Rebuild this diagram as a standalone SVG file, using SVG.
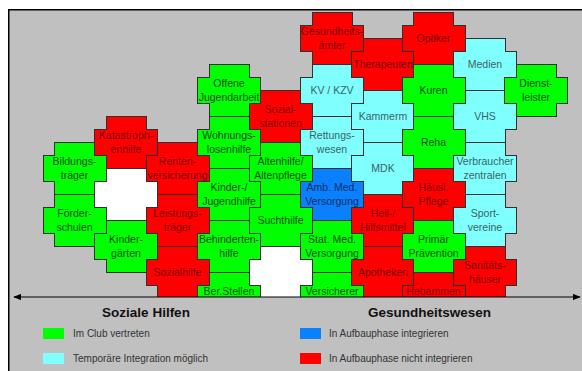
<svg xmlns="http://www.w3.org/2000/svg" xmlns:xlink="http://www.w3.org/1999/xlink" width="582" height="371" viewBox="0 0 582 371">
<style>
.pc{stroke:#303030;stroke-width:1;shape-rendering:crispEdges}
.r{fill:#FF0000}.g{fill:#00FF00}.c{fill:#80FFFF}.b{fill:#0A80FF}.w{fill:#FFFFFF}
text{font-family:"Liberation Sans",Arial,sans-serif;font-size:10.5px;text-anchor:middle}
.tr{fill:#7A0000}.tg{fill:#0A4A0A}.tc{fill:#3A6464}.tb{fill:#0F2F5F}
.lg{font-size:10px;text-anchor:start;fill:#333333}
.hd{font-size:13.5px;font-weight:bold;fill:#111111}
</style>
<defs>
<path id="pc" d="M-20,-26H20V-13H31.5V13H20V26H-20V13H-31.5V-13H-20Z"/>
<clipPath id="clip"><rect x="0" y="0" width="582" height="297"/></clipPath>
<marker id="ah" viewBox="0 0 10 8" refX="9" refY="4" markerWidth="8" markerHeight="6.4" markerUnits="userSpaceOnUse" orient="auto-start-reverse"><path d="M0,0L10,4L0,8Z" fill="#000"/></marker>
</defs>
<rect x="8.75" y="9.75" width="600" height="400" fill="#C0C0C0" stroke="#000" stroke-width="1.5"/>
<g id="pieces" clip-path="url(#clip)">
<g id="bildungstraeger"><use xlink:href="#pc" href="#pc" x="74.5" y="168" class="pc g"/><text class="tg" x="74.5" y="164.7"><tspan x="74.5">Bildungs-</tspan><tspan x="74.5" dy="14">träger</tspan></text></g>
<g id="foerderschulen"><use xlink:href="#pc" href="#pc" x="74.5" y="220" class="pc g"/><text class="tg" x="74.5" y="216.7"><tspan x="74.5">Förder-</tspan><tspan x="74.5" dy="14">schulen</tspan></text></g>
<g id="katastrophenhilfe"><use xlink:href="#pc" href="#pc" x="126" y="142" class="pc r"/><text class="tr" x="126" y="138.7"><tspan x="126">Katastroph-</tspan><tspan x="126" dy="14">enhilfe</tspan></text></g>
<g id="leer1"><use xlink:href="#pc" href="#pc" x="126" y="194" class="pc w"/></g>
<g id="kindergaerten"><use xlink:href="#pc" href="#pc" x="126" y="246" class="pc g"/><text class="tg" x="126" y="242.7"><tspan x="126">Kinder-</tspan><tspan x="126" dy="14">gärten</tspan></text></g>
<g id="rentenversicherung"><use xlink:href="#pc" href="#pc" x="177.5" y="168" class="pc r"/><text class="tr" x="177.5" y="164.7"><tspan x="177.5">Renten-</tspan><tspan x="177.5" dy="14">versicherung</tspan></text></g>
<g id="leistungstraeger"><use xlink:href="#pc" href="#pc" x="177.5" y="220" class="pc r"/><text class="tr" x="177.5" y="216.7"><tspan x="177.5">Leistungs-</tspan><tspan x="177.5" dy="14">träger</tspan></text></g>
<g id="sozialhilfe"><use xlink:href="#pc" href="#pc" x="177.5" y="272" class="pc r"/><text class="tr" x="177.5" y="275.7">Sozialhilfe</text></g>
<g id="offene-jugendarbeit"><use xlink:href="#pc" href="#pc" x="229" y="90" class="pc g"/><text class="tg" x="229" y="86.7"><tspan x="229">Offene</tspan><tspan x="229" dy="14">Jugendarbeit</tspan></text></g>
<g id="wohnungslosenhilfe"><use xlink:href="#pc" href="#pc" x="229" y="142" class="pc g"/><text class="tg" x="229" y="138.7"><tspan x="229">Wohnungs-</tspan><tspan x="229" dy="14">losenhilfe</tspan></text></g>
<g id="kinder-jugendhilfe"><use xlink:href="#pc" href="#pc" x="229" y="194" class="pc g"/><text class="tg" x="229" y="190.7"><tspan x="229">Kinder-/</tspan><tspan x="229" dy="14">Jugendhilfe</tspan></text></g>
<g id="behindertenhilfe"><use xlink:href="#pc" href="#pc" x="229" y="246" class="pc g"/><text class="tg" x="229" y="242.7"><tspan x="229">Behinderten-</tspan><tspan x="229" dy="14">hilfe</tspan></text></g>
<g id="berstellen"><use xlink:href="#pc" href="#pc" x="229" y="298" class="pc g"/><text class="tg" x="229" y="295">Ber.Stellen</text></g>
<g id="sozialstationen"><use xlink:href="#pc" href="#pc" x="280.5" y="116" class="pc r"/><text class="tr" x="280.5" y="112.7"><tspan x="280.5">Sozial-</tspan><tspan x="280.5" dy="14">stationen</tspan></text></g>
<g id="altenhilfe"><use xlink:href="#pc" href="#pc" x="280.5" y="168" class="pc g"/><text class="tg" x="280.5" y="164.7"><tspan x="280.5">Altenhilfe/</tspan><tspan x="280.5" dy="14">Altenpflege</tspan></text></g>
<g id="suchthilfe"><use xlink:href="#pc" href="#pc" x="280.5" y="220" class="pc g"/><text class="tg" x="280.5" y="223.7">Suchthilfe</text></g>
<g id="leer2"><use xlink:href="#pc" href="#pc" x="280.5" y="272" class="pc w"/></g>
<g id="gesundheitsaemter"><use xlink:href="#pc" href="#pc" x="332" y="38" class="pc r"/><text class="tr" x="332" y="34.7"><tspan x="332">Gesundheits-</tspan><tspan x="332" dy="14">ämter</tspan></text></g>
<g id="kv-kzv"><use xlink:href="#pc" href="#pc" x="332" y="90" class="pc c"/><text class="tc" x="332" y="93.7">KV / KZV</text></g>
<g id="rettungswesen"><use xlink:href="#pc" href="#pc" x="332" y="142" class="pc c"/><text class="tc" x="332" y="138.7"><tspan x="332">Rettungs-</tspan><tspan x="332" dy="14">wesen</tspan></text></g>
<g id="amb-med"><use xlink:href="#pc" href="#pc" x="332" y="194" class="pc b"/><text class="tb" x="332" y="190.7"><tspan x="332">Amb. Med.</tspan><tspan x="332" dy="14">Versorgung</tspan></text></g>
<g id="stat-med"><use xlink:href="#pc" href="#pc" x="332" y="246" class="pc g"/><text class="tg" x="332" y="242.7"><tspan x="332">Stat. Med.</tspan><tspan x="332" dy="14">Versorgung</tspan></text></g>
<g id="versicherer"><use xlink:href="#pc" href="#pc" x="332" y="298" class="pc g"/><text class="tg" x="332" y="295">Versicherer</text></g>
<g id="therapeuten"><use xlink:href="#pc" href="#pc" x="383" y="64" class="pc r"/><text class="tr" x="383" y="67.7">Therapeuten</text></g>
<g id="kammerm"><use xlink:href="#pc" href="#pc" x="383" y="116" class="pc c"/><text class="tc" x="383" y="119.7">Kammerm</text></g>
<g id="mdk"><use xlink:href="#pc" href="#pc" x="383" y="168" class="pc c"/><text class="tc" x="383" y="171.7">MDK</text></g>
<g id="heil-hilfsmittel"><use xlink:href="#pc" href="#pc" x="383" y="220" class="pc r"/><text class="tr" x="383" y="216.7"><tspan x="383">Heil-/</tspan><tspan x="383" dy="14">Hilfsmittel</tspan></text></g>
<g id="apotheken"><use xlink:href="#pc" href="#pc" x="383" y="272" class="pc r"/><text class="tr" x="383" y="275.7">Apotheken</text></g>
<g id="optiker"><use xlink:href="#pc" href="#pc" x="433.5" y="38" class="pc r"/><text class="tr" x="433.5" y="41.7">Optiker</text></g>
<g id="kuren"><use xlink:href="#pc" href="#pc" x="433.5" y="90" class="pc g"/><text class="tg" x="433.5" y="93.7">Kuren</text></g>
<g id="reha"><use xlink:href="#pc" href="#pc" x="433.5" y="142" class="pc g"/><text class="tg" x="433.5" y="145.7">Reha</text></g>
<g id="haeusl-pflege"><use xlink:href="#pc" href="#pc" x="433.5" y="194" class="pc r"/><text class="tr" x="433.5" y="190.7"><tspan x="433.5">Häusl.</tspan><tspan x="433.5" dy="14">Pflege</tspan></text></g>
<g id="primaer-praevention"><use xlink:href="#pc" href="#pc" x="433.5" y="246" class="pc g"/><text class="tg" x="433.5" y="242.7"><tspan x="433.5">Primär</tspan><tspan x="433.5" dy="14">Prävention</tspan></text></g>
<g id="hebammen"><use xlink:href="#pc" href="#pc" x="433.5" y="298" class="pc r"/><text class="tr" x="433.5" y="295">Hebammen</text></g>
<g id="medien"><use xlink:href="#pc" href="#pc" x="485" y="64" class="pc c"/><text class="tc" x="485" y="67.7">Medien</text></g>
<g id="vhs"><use xlink:href="#pc" href="#pc" x="485" y="116" class="pc c"/><text class="tc" x="485" y="119.7">VHS</text></g>
<g id="verbraucherzentralen"><use xlink:href="#pc" href="#pc" x="485" y="168" class="pc c"/><text class="tc" x="485" y="164.7"><tspan x="485">Verbraucher</tspan><tspan x="485" dy="14">zentralen</tspan></text></g>
<g id="sportvereine"><use xlink:href="#pc" href="#pc" x="485" y="220" class="pc c"/><text class="tc" x="485" y="216.7"><tspan x="485">Sport-</tspan><tspan x="485" dy="14">vereine</tspan></text></g>
<g id="sanitaetshaeuser"><use xlink:href="#pc" href="#pc" x="485" y="272" class="pc r"/><text class="tr" x="485" y="268.7"><tspan x="485">Sanitäts-</tspan><tspan x="485" dy="14">häuser</tspan></text></g>
<g id="dienstleister"><use xlink:href="#pc" href="#pc" x="536" y="90" class="pc g"/><text class="tg" x="536" y="86.7"><tspan x="536">Dienst-</tspan><tspan x="536" dy="14">leister</tspan></text></g>
</g>
<g id="connectors">
<line x1="14" y1="297" x2="580" y2="297" stroke="#000" stroke-width="1" marker-start="url(#ah)" marker-end="url(#ah)"/>
</g>
<g id="labels">
<text class="hd" x="146" y="317">Soziale Hilfen</text>
<text class="hd" x="429.5" y="317">Gesundheitswesen</text>
</g>
<g id="legend">
<rect x="43" y="328" width="21" height="11" fill="#00FF00"/>
<text class="lg" x="73" y="337">Im Club vertreten</text>
<rect x="43" y="353" width="21" height="11" fill="#80FFFF"/>
<text class="lg" x="73" y="362">Temporäre Integration möglich</text>
<rect x="300" y="328" width="21" height="11" fill="#0A80FF"/>
<text class="lg" x="329" y="337">In Aufbauphase integrieren</text>
<rect x="300" y="353" width="21" height="11" fill="#FF0000"/>
<text class="lg" x="329" y="362">In Aufbauphase nicht integrieren</text>
</g>
</svg>
